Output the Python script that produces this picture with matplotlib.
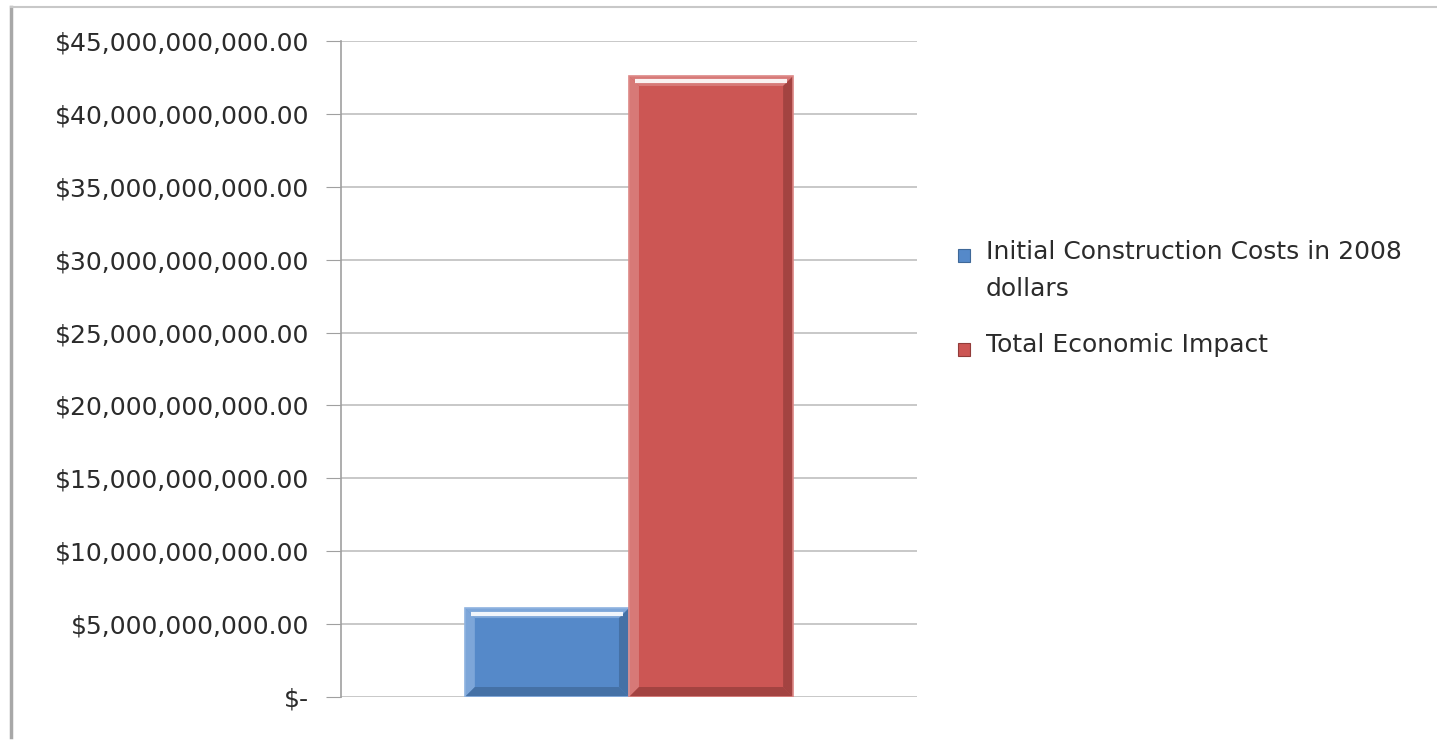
import matplotlib.pyplot as plt
from matplotlib.patches import Polygon, Rectangle
from matplotlib.lines import Line2D
from matplotlib.ticker import FuncFormatter
from matplotlib.transforms import IdentityTransform

series = ["Initial Construction Costs in 2008\ndollars", "Total Economic Impact"]
values = [6.1e9, 42.6e9]
colors = ["#5589C9", "#CC5654"]
edge_light = ["#8FB3E0", "#DD8886"]
edge_dark = ["#3F6898", "#923C3A"]
yticks = [0, 5e9, 10e9, 15e9, 20e9, 25e9, 30e9, 35e9, 40e9, 45e9]

plt.rcParams["font.family"] = ["DejaVu Sans"]

fig = plt.figure(figsize=(14.37, 7.51), dpi=100)
ax = fig.add_axes([0.2373, 0.0719, 0.4008, 0.8735])

width = 0.285
xs = [-width / 2, width / 2]
bars = ax.bar(xs, values, width=width, color=colors, zorder=3, linewidth=0)

ax.set_xlim(-0.5, 0.5)
ax.set_ylim(0, 45e9)
ax.set_yticks(yticks)


def money(v, pos):
    if v == 0:
        return "$-"
    return "${:,.2f}".format(v)


ax.yaxis.set_major_formatter(FuncFormatter(money))
ax.tick_params(axis="y", labelsize=18, length=11, color="#A0A0A0", pad=12,
               labelcolor="#2B2B2B")
ax.set_xticks([])
ax.grid(axis="y", color="#BFBFBF", linewidth=1.2, zorder=0)
for side in ["top", "right", "bottom"]:
    ax.spines[side].set_visible(False)
ax.spines["left"].set_color("#A0A0A0")
ax.spines["left"].set_linewidth(1.2)

# bevelled look on each bar, built from the bar's own rectangle in pixels
fig.canvas.draw()
b = 10
for i, bar in enumerate(bars):
    x0, y0 = ax.transData.transform((bar.get_x(), 0))
    x1, y1 = ax.transData.transform((bar.get_x() + bar.get_width(), bar.get_height()))
    outer = [(x0, y0), (x1, y0), (x1, y1), (x0, y1)]
    inner = [(x0 + b, y0 + b), (x1 - b, y0 + b), (x1 - b, y1 - b), (x0 + b, y1 - b)]
    faces = [
        ([outer[3], outer[2], inner[2], inner[3]], edge_light[i]),
        ([outer[0], outer[3], inner[3], inner[0]], edge_light[i]),
        ([outer[1], outer[2], inner[2], inner[1]], edge_dark[i]),
        ([outer[0], outer[1], inner[1], inner[0]], edge_dark[i]),
    ]
    for pts, c in faces:
        ax.add_artist(Polygon(pts, closed=True, facecolor=c, edgecolor="none",
                              transform=IdentityTransform(), zorder=4, alpha=0.7))
    # bright highlight along the top bevel
    ym = y1 - b * 0.55
    ax.add_artist(Line2D([x0 + b * 0.6, x1 - b * 0.6], [ym, ym], color="white",
                         linewidth=3, alpha=0.9, transform=IdentityTransform(),
                         zorder=5, solid_capstyle="butt"))
    ax.add_artist(Rectangle((x0, y0), x1 - x0, y1 - y0, facecolor="none",
                            edgecolor=edge_light[i], linewidth=1.2,
                            transform=IdentityTransform(), zorder=5))

# legend on the right
legend_y = [0.6595, 0.5345]
for i, label in enumerate(series):
    fig.patches.append(Rectangle((0.6665, legend_y[i] - 0.008), 0.0085, 0.0165,
                                 facecolor=colors[i], edgecolor=edge_dark[i],
                                 linewidth=0.8, transform=fig.transFigure))
    fig.text(0.686, legend_y[i] + 0.0215, label, fontsize=18, color="#2B2B2B",
             va="top", ha="left", linespacing=1.7)

# outer chart frame
fig.add_artist(Line2D([0.0075, 0.0075], [0.019, 0.991], color="#A8A8A8",
                      linewidth=2.5, transform=fig.transFigure))
fig.add_artist(Line2D([0.0075, 1.0], [0.991, 0.991], color="#C8C8C8",
                      linewidth=1.5, transform=fig.transFigure))

fig.savefig("out.png", dpi=100)
